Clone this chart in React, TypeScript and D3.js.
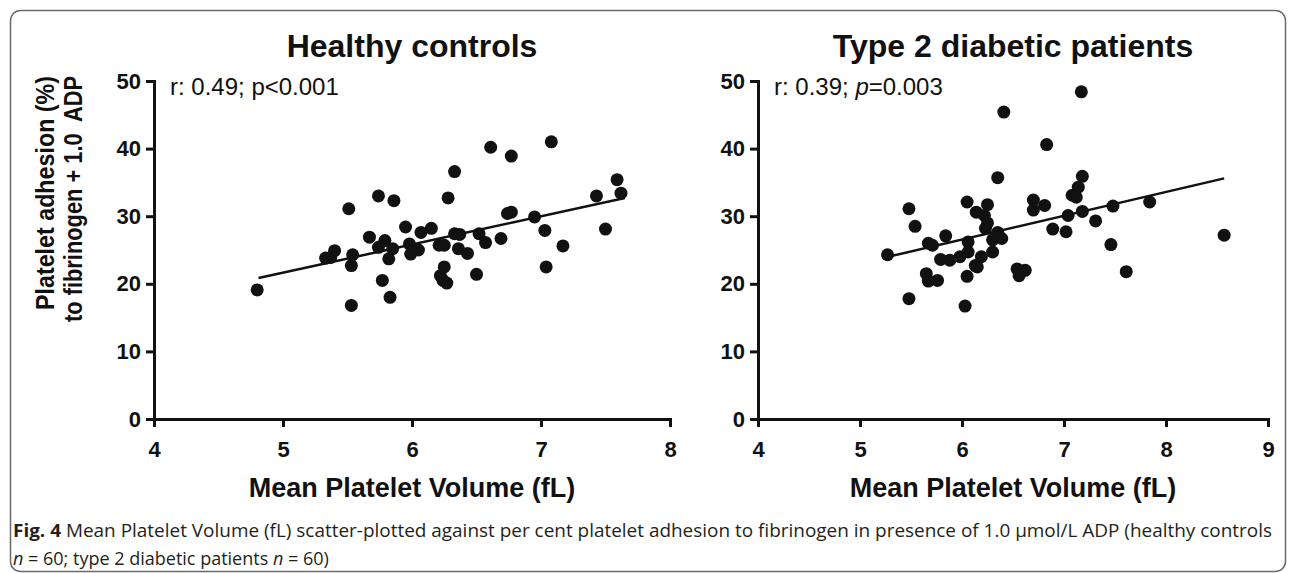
import * as d3 from 'd3';
import { useEffect, useRef } from 'react';

const WIDTH = 1290;
const HEIGHT = 573;
const FONT = "'Liberation Sans', Arial, Helvetica, sans-serif";
const CAPTION_FONT = "'Open Sans', 'Noto Sans', sans-serif";

const Y_TOP = 81;
const Y_BOTTOM = 419;

// tick values
const yTicks = [0, 10, 20, 30, 40, 50];
const healthyXTicks = [4, 5, 6, 7, 8];
const diabeticXTicks = [4, 5, 6, 7, 8, 9];

// healthy controls (MPV fL, adhesion %)
const healthyMPV = [
    4.80, 5.53, 5.51, 5.53, 5.54, 5.33, 5.40, 5.37, 5.74, 5.86,
    5.67, 5.79, 5.74, 5.85, 5.82, 5.77, 5.83, 5.95, 5.98, 5.99,
    6.05, 6.07, 6.15, 6.21, 6.25, 6.28, 6.33, 6.33, 6.37, 6.36,
    6.43, 6.25, 6.22, 6.24, 6.27, 6.50, 6.52, 6.57, 6.61, 6.69,
    6.74, 6.77, 6.77, 6.95, 7.03, 7.04, 7.08, 7.17, 7.43, 7.50,
    7.59, 7.62
];
const healthyAdhesion = [
    19.1, 16.8, 31.1, 22.7, 24.3, 23.8, 24.9, 23.9, 33.0, 32.3,
    26.9, 26.4, 25.4, 25.2, 23.7, 20.5, 18.0, 28.4, 25.9, 24.4,
    25.0, 27.6, 28.2, 25.7, 25.7, 32.7, 36.6, 27.4, 27.3, 25.2,
    24.5, 22.5, 21.2, 20.5, 20.1, 21.4, 27.4, 26.1, 40.2, 26.7,
    30.4, 30.6, 38.9, 29.9, 27.9, 22.5, 41.0, 25.6, 33.0, 28.1,
    35.4, 33.4
];

// type 2 diabetic patients
const diabeticMPV = [
    5.27, 5.48, 5.54, 5.48, 5.67, 5.71, 5.65, 5.67, 5.76, 5.84,
    5.79, 5.88, 5.98, 6.05, 6.06, 6.06, 6.05, 6.03, 6.14, 6.25,
    6.22, 6.25, 6.23, 6.19, 6.15, 6.13, 6.30, 6.35, 6.39, 6.30,
    6.35, 6.41, 6.54, 6.56, 6.62, 6.70, 6.70, 6.81, 6.83, 6.89,
    7.02, 7.04, 7.08, 7.12, 7.14, 7.18, 7.18, 7.17, 7.31, 7.46,
    7.48, 7.61, 7.84, 8.57
];
const diabeticAdhesion = [
    24.3, 31.1, 28.5, 17.8, 26.0, 25.7, 21.5, 20.4, 20.5, 27.1,
    23.6, 23.5, 24.0, 32.1, 26.2, 24.7, 21.1, 16.7, 30.6, 31.7,
    30.1, 29.0, 28.2, 24.0, 22.5, 22.7, 26.5, 27.6, 26.7, 24.7,
    35.7, 45.4, 22.2, 21.2, 22.0, 32.4, 30.9, 31.6, 40.6, 28.1,
    27.7, 30.1, 33.1, 32.8, 34.3, 35.9, 30.7, 48.4, 29.3, 25.8,
    31.5, 21.8, 32.1, 27.2
];

// regression line end points
const healthyFitX = [4.81, 7.65];
const healthyFitY = [20.85, 32.7];
const diabeticFitX = [5.22, 8.57];
const diabeticFitY = [23.8, 35.6];

type PanelCfg = {
    title: string;
    left: number;
    right: number;
    domain: [number, number];
    xTicks: number[];
    xs: number[];
    ys: number[];
    fitX: number[];
    fitY: number[];
    stat: [string, string, string];
    statItalic: boolean;
};

const panels: PanelCfg[] = [
    {
        title: 'Healthy controls', left: 154, right: 670, domain: [4, 8], xTicks: healthyXTicks,
        xs: healthyMPV, ys: healthyAdhesion, fitX: healthyFitX, fitY: healthyFitY,
        stat: ['r: 0.49; ', 'p', '<0.001'], statItalic: false,
    },
    {
        title: 'Type 2 diabetic patients', left: 758, right: 1268, domain: [4, 9], xTicks: diabeticXTicks,
        xs: diabeticMPV, ys: diabeticAdhesion, fitX: diabeticFitX, fitY: diabeticFitY,
        stat: ['r: 0.39; ', 'p', '=0.003'], statItalic: true,
    },
];

function drawPanel(svg: any, cfg: PanelCfg) {
    const xScale = d3.scaleLinear().domain(cfg.domain).range([cfg.left, cfg.right]);
    const yScale = d3.scaleLinear().domain([0, 50]).range([Y_BOTTOM, Y_TOP]);

    const g = svg.append('g');

    // title
    g.append('text')
        .attr('x', (cfg.left + cfg.right) / 2)
        .attr('y', 57)
        .attr('text-anchor', 'middle')
        .attr('font-family', FONT)
        .attr('font-weight', 'bold')
        .attr('font-size', 32)
        .attr('fill', '#111')
        .text(cfg.title);

    // axes
    const xAxis = d3.axisBottom(xScale).tickValues(cfg.xTicks).tickSize(8).tickSizeOuter(0)
        .tickPadding(14).tickFormat(d3.format('d'));
    const yAxis = d3.axisLeft(yScale).tickValues(yTicks).tickSize(8).tickSizeOuter(0)
        .tickPadding(5).tickFormat(d3.format('d'));

    const gx = g.append('g').attr('transform', `translate(0, ${Y_BOTTOM})`).call(xAxis);
    const gy = g.append('g').attr('transform', `translate(${cfg.left}, 0)`).call(yAxis);

    [gx, gy].forEach((ax) => {
        ax.attr('font-family', FONT).attr('font-size', 22).attr('font-weight', 'bold');
        ax.select('.domain').attr('stroke', '#111').attr('stroke-width', 3).attr('stroke-linecap', 'square');
        ax.selectAll('.tick line').attr('stroke', '#111').attr('stroke-width', 3);
        ax.selectAll('.tick text').attr('fill', '#111');
    });

    // axis title
    g.append('text')
        .attr('x', (cfg.left + cfg.right) / 2)
        .attr('y', 497)
        .attr('text-anchor', 'middle')
        .attr('font-family', FONT)
        .attr('font-weight', 'bold')
        .attr('font-size', 27)
        .attr('fill', '#111')
        .text('Mean Platelet Volume (fL)');

    // stat text
    const st = g.append('text')
        .attr('x', cfg.left + 16)
        .attr('y', 95)
        .attr('font-family', FONT)
        .attr('font-size', 24)
        .attr('fill', '#111');
    st.append('tspan').text(cfg.stat[0]);
    st.append('tspan').attr('font-style', cfg.statItalic ? 'italic' : 'normal').text(cfg.stat[1]);
    st.append('tspan').text(cfg.stat[2]);

    // fit line
    const line = d3.line<number>().x((d, i) => xScale(cfg.fitX[i])).y((d) => yScale(d));
    g.append('path')
        .attr('d', line(cfg.fitY))
        .attr('fill', 'none')
        .attr('stroke', '#111')
        .attr('stroke-width', 2.5);

    // points
    g.append('g').selectAll('circle')
        .data(cfg.xs)
        .join('circle')
        .attr('cx', (d: number) => xScale(d))
        .attr('cy', (d: number, i: number) => yScale(cfg.ys[i]))
        .attr('r', 6.5)
        .attr('fill', '#111');
}

const App = () => {
    const svgRef = useRef<SVGSVGElement>(null);

    useEffect(() => {
        const svg = d3.select(svgRef.current);
        svg.selectAll('*').remove();

        svg.append('rect').attr('width', WIDTH).attr('height', HEIGHT).attr('fill', '#fff');

        // figure frame
        svg.append('rect')
            .attr('x', 10.5).attr('y', 10.5)
            .attr('width', 1275).attr('height', 561)
            .attr('rx', 10)
            .attr('fill', 'none')
            .attr('stroke', '#6a6a6a')
            .attr('stroke-width', 1.5);

        // y axis title (shared, left panel)
        const yLabel = svg.append('g')
            .attr('font-family', FONT)
            .attr('font-weight', 'bold')
            .attr('font-size', 26)
            .attr('fill', '#111');
        yLabel.append('text')
            .attr('transform', 'translate(54, 310) rotate(-90)')
            .attr('textLength', 234)
            .attr('lengthAdjust', 'spacingAndGlyphs')
            .text('Platelet adhesion (%)');
        yLabel.append('text')
            .attr('transform', 'translate(82, 322) rotate(-90)')
            .attr('textLength', 246)
            .attr('lengthAdjust', 'spacingAndGlyphs')
            .style('white-space', 'pre')
            .text('to fibrinogen + 1.0  ADP');

        panels.forEach((p) => drawPanel(svg, p));

        // caption
        const cap = svg.append('g').attr('font-family', CAPTION_FONT).attr('font-size', 18).attr('fill', '#231f20');
        const l1 = cap.append('text')
            .attr('x', 13).attr('y', 537)
            .attr('textLength', 1259)
            .attr('lengthAdjust', 'spacingAndGlyphs');
        l1.append('tspan').attr('font-weight', 'bold').text('Fig. 4');
        l1.append('tspan').text(' Mean Platelet Volume (fL) scatter-plotted against per cent platelet adhesion to fibrinogen in presence of 1.0 μmol/L ADP (healthy controls');
        const l2 = cap.append('text').attr('x', 13).attr('y', 565);
        l2.append('tspan').attr('font-style', 'italic').text('n');
        l2.append('tspan').text(' = 60; type 2 diabetic patients ');
        l2.append('tspan').attr('font-style', 'italic').text('n');
        l2.append('tspan').text(' = 60)');
    }, []);

    return (
        <svg
            ref={svgRef}
            width={WIDTH}
            height={HEIGHT}
            style={{ position: 'absolute', left: 0, top: 0, display: 'block' }}
        />
    );
};

export default App;
